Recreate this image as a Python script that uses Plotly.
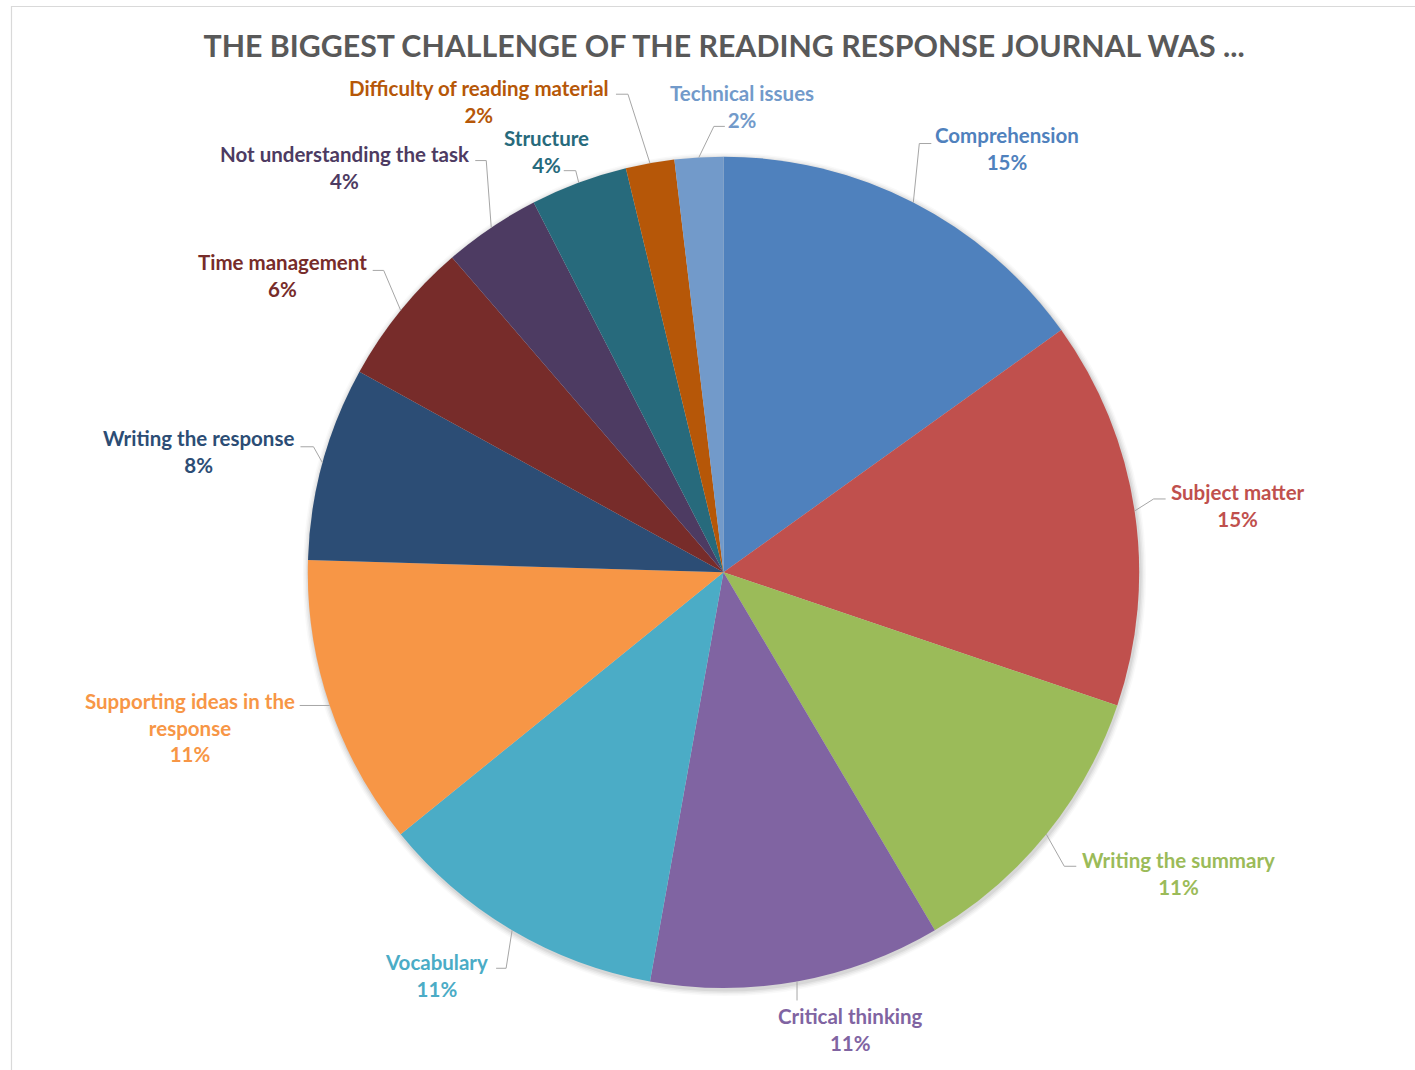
import math
import plotly.graph_objects as go

W, H = 1415, 1070

# ---- data ----
categories = ["Comprehension", "Subject matter", "Writing the summary", "Critical thinking",
              "Vocabulary", "Supporting ideas in the response", "Writing the response",
              "Time management", "Not understanding the task", "Structure",
              "Difficulty of reading material", "Technical issues"]
counts = [8, 8, 6, 6, 6, 6, 4, 3, 2, 2, 1, 1]
title_text = "THE BIGGEST CHALLENGE OF THE READING RESPONSE JOURNAL WAS ..."

# ---- styles ----
colors = ["#4F81BD", "#C0504D", "#9BBB59", "#8064A2", "#4BACC6", "#F79646",
          "#2C4D75", "#772C2A", "#4D3B62", "#276A7C", "#B65708", "#729ACA"]
display_wrap = {"Supporting ideas in the response": "Supporting ideas in the<br>response"}
FONT = "Lato"
LABEL_SIZE = 20.5

# leader-line / label placement (pixel offsets relative to the slice edge point)
label_layout = [
    dict(elbow=(6, -59), seg=12, anchor="left", tx=2, ty=5),
    dict(elbow=(19, -12), seg=12, anchor="left", tx=3, ty=7),
    dict(elbow=(18, 32), seg=12, anchor="left", tx=4, ty=7),
    dict(elbow=(0, 19), seg=0, anchor="center", tx=53, ty=29),
    dict(elbow=(-6, 38), seg=-10, anchor="right", tx=-6, ty=7),
    dict(elbow=(-30, 0), seg=0, anchor="right", tx=-3, ty=22),
    dict(elbow=(-9, -16), seg=-13, anchor="right", tx=-4, ty=5),
    dict(elbow=(-17, -40), seg=-11, anchor="right", tx=-4, ty=5),
    dict(elbow=(-5, -67), seg=-11, anchor="right", tx=-4, ty=7),
    dict(elbow=(-3, -12), seg=-12, anchor="center", tx=-17, ty=-19),
    dict(elbow=(-22, -69), seg=-12, anchor="right", tx=-5, ty=7),
    dict(elbow=(15, -31), seg=11, anchor="center", tx=17, ty=-20),
]

dom_x = [0.2175, 0.8051]
dom_y = [0.0766, 0.8536]


def px(x):
    return x / W


def py(y):
    return 1 - y / H


fig = go.Figure(go.Pie(
    labels=categories, values=counts, sort=False, direction="clockwise", rotation=0,
    marker=dict(colors=colors, line=dict(width=0)),
    textinfo="none", hoverinfo="label+percent", showlegend=False,
    domain=dict(x=dom_x, y=dom_y),
))

# pie geometry in pixels
cx = (dom_x[0] + dom_x[1]) / 2 * W
cy = (1 - (dom_y[0] + dom_y[1]) / 2) * H
R = min((dom_x[1] - dom_x[0]) * W, (dom_y[1] - dom_y[0]) * H) / 2

shapes = []
# soft shadow around pie
for k, op in [(6, 0.025), (4.5, 0.035), (3, 0.045), (1.5, 0.06)]:
    r = R + k
    shapes.append(dict(type="circle", xref="paper", yref="paper", layer="below",
                       x0=px(cx - r + 1), x1=px(cx + r + 1), y0=py(cy + r + 2), y1=py(cy - r + 2),
                       fillcolor=f"rgba(0,0,0,{op})", line=dict(width=0)))
# chart border
shapes.append(dict(type="rect", xref="paper", yref="paper", layer="below",
                   x0=px(11.5), x1=1.05, y0=-0.05, y1=py(6.5),
                   line=dict(color="#D9D9D9", width=1.2), fillcolor="rgba(0,0,0,0)"))

total = sum(counts)
annotations = []
cum = 0
for name, v, col, lay in zip(categories, counts, colors, label_layout):
    theta = 2 * math.pi * (cum + v / 2) / total
    cum += v
    ex = cx + R * math.sin(theta)
    ey = cy - R * math.cos(theta)
    bx, by = ex + lay["elbow"][0], ey + lay["elbow"][1]
    sx, sy = bx + lay["seg"], by
    path = f"M {px(ex)},{py(ey)} L {px(bx)},{py(by)} L {px(sx)},{py(sy)}"
    shapes.append(dict(type="path", xref="paper", yref="paper", path=path,
                       line=dict(color="#A6A6A6", width=1)))
    pct = round(v / total * 100)
    text = f"{display_wrap.get(name, name)}<br>{pct}%"
    annotations.append(dict(x=px(sx + lay["tx"]), y=py(sy + lay["ty"]), xref="paper", yref="paper",
                            text=text, showarrow=False, xanchor=lay["anchor"], yanchor="middle",
                            align="center",
                            font=dict(family=FONT, size=LABEL_SIZE, color=col, weight=700)))

fig.update_layout(
    width=W, height=H,
    margin=dict(l=0, r=0, t=0, b=0),
    paper_bgcolor="white", plot_bgcolor="white",
    title=dict(text=title_text, x=0.5117, xanchor="center", y=py(46), yanchor="middle",
               font=dict(family=FONT, size=30.3, color="#595959", weight=700)),
    shapes=shapes, annotations=annotations,
)

fig.write_html("out.html", config={"displayModeBar": False},
               post_script="document.body.style.margin='0';")
